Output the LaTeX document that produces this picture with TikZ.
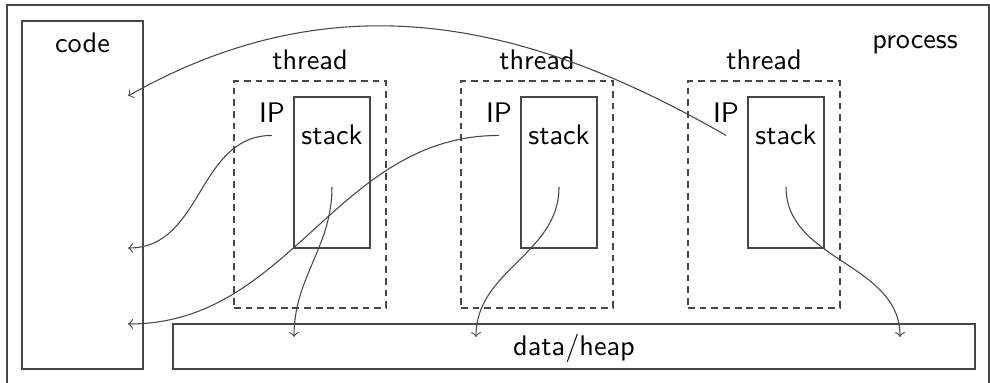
\documentclass[tikz,border=0pt]{standalone}
\usetikzlibrary{fit}
\tikzset{
  ink/.style={draw=black!72, line width=0.38pt},
  box/.style={ink, inner sep=0pt},
  threadbox/.style={ink, dash pattern=on 2.4pt off 1.73pt, inner sep=0pt},
  lbl/.style={font=\sffamily, anchor=base, inner sep=0pt},
  iplbl/.style={lbl, inner ysep=4.2pt},
  link/.style={ink, ->},
}
\begin{document}
\begin{tikzpicture}[x=0.3534pt, y=-0.3534pt]
\useasboundingbox (0,0) rectangle (990,383);

% the process and its shared memory
\node[box, fit={(7,5) (989,386)}] (process) {};
\node[lbl] (processlabel) at (915,48.3) {process};
\node[box, fit={(22,21) (143,369)}] (code) {};
\node[lbl] (codelabel) at (82.5,53) {code};
\node[box, fit={(173,324) (975,369)}] (data) {};
\node[lbl] (datalabel) at (574,356) {data/heap};

% three threads, each with an instruction pointer and a stack
\foreach \i/\L in {1/234, 2/461, 3/688} {
  \node[threadbox, fit={(\L,81) (\L+152,308)}] (thread\i) {};
  \node[box, fit={(\L+60,97) (\L+136,248)}] (stack\i) {};
  \node[lbl] (threadlabel\i) at (\L+76,70) {thread};
  \node[iplbl] (ip\i) at (\L+38,123) {IP};
  \node[lbl] (stacklabel\i) at (\L+98,145) {stack};
  \coordinate (sp\i) at (\L+98,187);
}

% targets inside code and data
\coordinate (codeA) at (128,96);
\coordinate (codeB) at (128,248);
\coordinate (codeC) at (128,324);
\coordinate (dataA) at (294,337);
\coordinate (dataB) at (476,337);
\coordinate (dataC) at (900,337);

% instruction pointers into the code
\draw[link] (ip1.south) .. controls +(-75,0) and +(75,0) .. (codeB);
\draw[link] (ip2.south) .. controls +(-163,0) and +(163,0) .. (codeC);
\draw[link] (ip3.south) .. controls +(-203,-117) and +(205,-116) .. (codeA);

% stacks referring into the heap
\draw[link] (sp1) .. controls +(0,60) and +(0,-60) .. (dataA);
\draw[link] (sp2) .. controls +(0,67) and +(0,-67) .. (dataB);
\draw[link] (sp3) .. controls +(0,74) and +(0,-74) .. (dataC);
\end{tikzpicture}
\end{document}
